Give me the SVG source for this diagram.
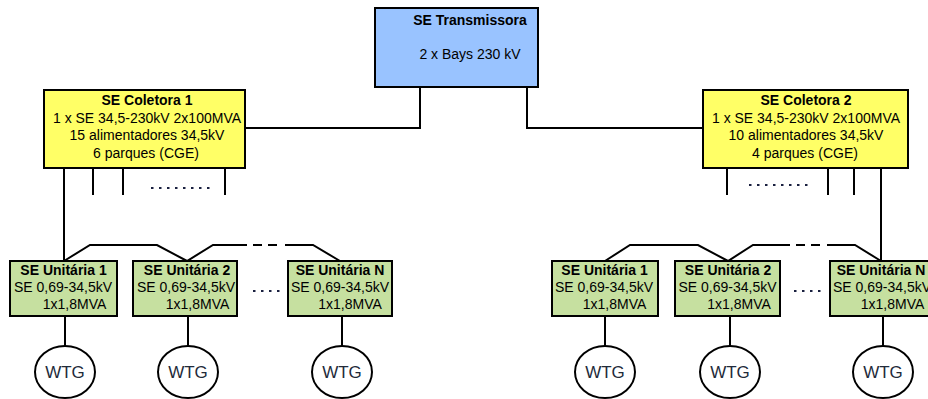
<svg xmlns="http://www.w3.org/2000/svg" width="928" height="399" viewBox="0 0 928 399">
<style>
.box{stroke:#000;stroke-width:2}
.tr{fill:#99c3ff}
.co{fill:#ffff66}
.un{fill:#c6e0a0}
.w{fill:#fff;stroke:#000;stroke-width:2}
text{font-family:"Liberation Sans",Arial,sans-serif;font-size:14px;fill:#000;text-anchor:middle}
.b{font-weight:bold}
.wt{font-size:17px;fill:#222a3a}
.ln{fill:none;stroke:#000;stroke-width:2}
.dt{fill:none;stroke:#1a2040;stroke-width:2;stroke-dasharray:2.5,5.5}
</style>
<rect width="928" height="399" fill="#fff"/>
<g id="connectors">
<polyline class="ln" points="420,87 420,128 245,128"/>
<polyline class="ln" points="527,87 527,128 703,128"/>
<line class="ln" x1="64" y1="168" x2="64" y2="261"/>
<line class="ln" x1="93" y1="168" x2="93" y2="195"/>
<line class="ln" x1="123" y1="168" x2="123" y2="195"/>
<line class="ln" x1="225" y1="168" x2="225" y2="195"/>
<line class="dt" x1="151" y1="188" x2="212" y2="188"/>
<line class="ln" x1="881" y1="168" x2="881" y2="261"/>
<line class="ln" x1="727" y1="168" x2="727" y2="195"/>
<line class="ln" x1="828" y1="168" x2="828" y2="195"/>
<line class="ln" x1="854" y1="168" x2="854" y2="195"/>
<line class="dt" x1="749" y1="185" x2="810" y2="185"/>
<polyline class="ln" points="64,261 90,245 157,245 187,261 213,245 247,245"/>
<line class="ln" x1="253" y1="245" x2="262" y2="245"/>
<line class="ln" x1="268" y1="245" x2="277" y2="245"/>
<polyline class="ln" points="285,245 313,245 340,261"/>
<polyline class="ln" points="605,261 630,245 698,245 728,261 753,245 790,245"/>
<line class="ln" x1="796" y1="245" x2="805" y2="245"/>
<line class="ln" x1="811" y1="245" x2="820" y2="245"/>
<polyline class="ln" points="827,245 855,245 881,261"/>
<line class="dt" x1="253" y1="291" x2="283" y2="291"/>
<line class="dt" x1="794" y1="291" x2="824" y2="291"/>
<line class="ln" x1="65" y1="316" x2="65" y2="346"/>
<line class="ln" x1="188" y1="316" x2="188" y2="346"/>
<line class="ln" x1="342" y1="316" x2="342" y2="346"/>
<line class="ln" x1="605" y1="316" x2="605" y2="346"/>
<line class="ln" x1="730" y1="316" x2="730" y2="346"/>
<line class="ln" x1="883" y1="316" x2="883" y2="346"/>
</g>
<g id="se-transmissora">
<rect class="box tr" x="375" y="8" width="163" height="79"/>
<text class="b" x="470" y="25">SE Transmissora</text>
<text x="470" y="59">2 x Bays 230 kV</text>
</g>
<g id="se-coletora-1">
<rect class="box co" x="44" y="90" width="201" height="78"/>
<text class="b" x="147" y="105">SE Coletora 1</text>
<text x="147" y="123">1 x SE 34,5-230kV 2x100MVA</text>
<text x="147" y="140">15 alimentadores 34,5kV</text>
<text x="146" y="158">6 parques (CGE)</text>
</g>
<g id="se-coletora-2">
<rect class="box co" x="703" y="90" width="205" height="78"/>
<text class="b" x="806" y="105">SE Coletora 2</text>
<text x="806" y="123">1 x SE 34,5-230kV 2x100MVA</text>
<text x="806" y="140">10 alimentadores 34,5kV</text>
<text x="805" y="158">4 parques (CGE)</text>
</g>
<g id="se-unitaria-1-l">
<rect class="box un" x="10" y="261" width="107" height="55"/>
<text class="b" x="63.5" y="275">SE Unitária 1</text>
<text x="63" y="292">SE 0,69-34,5kV</text>
<text x="74.5" y="309">1x1,8MVA</text>
</g>
<g id="se-unitaria-2-l">
<rect class="box un" x="133" y="261" width="104" height="55"/>
<text class="b" x="187" y="275">SE Unitária 2</text>
<text x="186" y="292">SE 0,69-34,5kV</text>
<text x="197.5" y="309">1x1,8MVA</text>
</g>
<g id="se-unitaria-n-l">
<rect class="box un" x="288" y="261" width="104" height="55"/>
<text class="b" x="340" y="275">SE Unitária N</text>
<text x="340" y="292">SE 0,69-34,5kV</text>
<text x="350" y="309">1x1,8MVA</text>
</g>
<g id="se-unitaria-1-r">
<rect class="box un" x="552" y="261" width="106" height="55"/>
<text class="b" x="604.5" y="275">SE Unitária 1</text>
<text x="604" y="292">SE 0,69-34,5kV</text>
<text x="614.5" y="309">1x1,8MVA</text>
</g>
<g id="se-unitaria-2-r">
<rect class="box un" x="675" y="261" width="105" height="55"/>
<text class="b" x="728" y="275">SE Unitária 2</text>
<text x="727.5" y="292">SE 0,69-34,5kV</text>
<text x="739" y="309">1x1,8MVA</text>
</g>
<g id="se-unitaria-n-r">
<rect class="box un" x="830" y="261" width="105" height="55"/>
<text class="b" x="881" y="275">SE Unitária N</text>
<text x="882" y="292">SE 0,69-34,5kV</text>
<text x="892.5" y="309">1x1,8MVA</text>
</g>
<g id="wtg-1-l"><ellipse class="w" cx="65" cy="372" rx="30" ry="26"/><text class="wt" x="65" y="378">WTG</text></g>
<g id="wtg-2-l"><ellipse class="w" cx="188" cy="372" rx="30" ry="26"/><text class="wt" x="188" y="378">WTG</text></g>
<g id="wtg-n-l"><ellipse class="w" cx="342" cy="372" rx="30" ry="26"/><text class="wt" x="342" y="378">WTG</text></g>
<g id="wtg-1-r"><ellipse class="w" cx="605" cy="372" rx="30" ry="26"/><text class="wt" x="605" y="378">WTG</text></g>
<g id="wtg-2-r"><ellipse class="w" cx="730" cy="372" rx="30" ry="26"/><text class="wt" x="730" y="378">WTG</text></g>
<g id="wtg-n-r"><ellipse class="w" cx="883" cy="372" rx="30" ry="26"/><text class="wt" x="883" y="378">WTG</text></g>
</svg>
